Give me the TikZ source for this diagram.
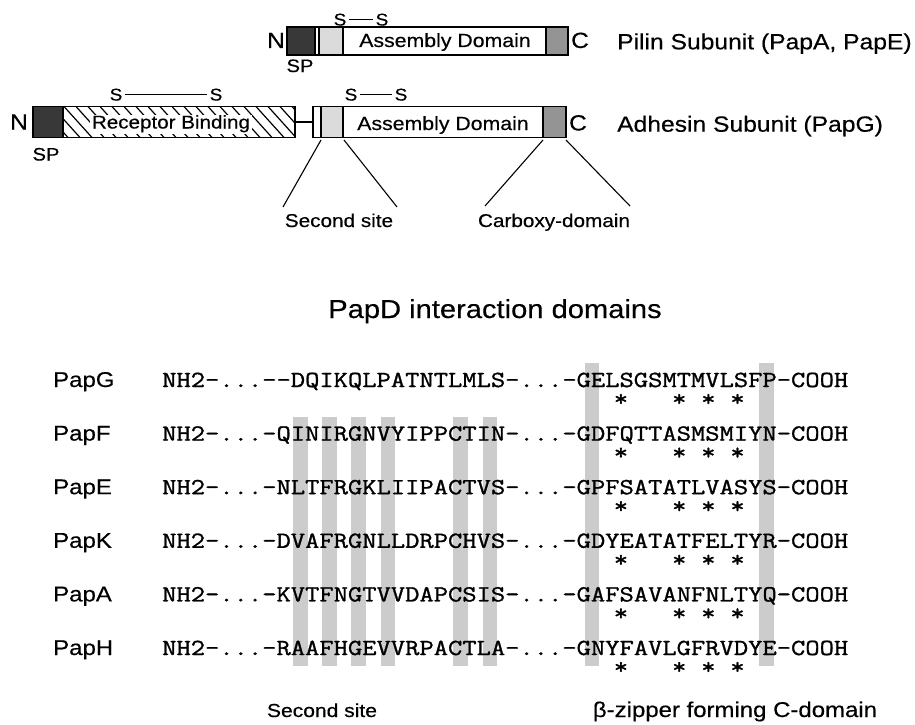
\documentclass[tikz,border=0pt]{standalone}
\usepackage{fontspec}
\setmainfont{Liberation Sans}[FakeStretch=1.12,FakeBold=0.4]
\setmonofont{Latin Modern Mono}[FakeStretch=1.2066,FakeBold=1.2]
\begin{document}
\begin{tikzpicture}[x=1pt,y=-1pt,
  sz/.style={font=\fontsize{#1}{#1}\selectfont},
  txt/.style={inner sep=0pt,anchor=base},
  txtw/.style={inner sep=0pt,anchor=base west},
  boxline/.style={draw=black,line width=1.6pt},
  divline/.style={draw=black,line width=1.3pt},
  thin/.style={draw=black,line width=1.1pt},
  seq/.style={inner sep=0pt,anchor=base west,font=\ttfamily\fontsize{23}{23}\selectfont},
  ast/.style={inner sep=0pt,anchor=center,font=\ttfamily\fontsize{23}{23}\selectfont},
  bar/.style={fill=black!20},
  spfill/.style={fill=black!78},
  ssfill/.style={fill=black!14},
  cfill/.style={fill=black!42}]
\useasboundingbox[fill=white] (0,0) rectangle (915,725);
\def\xo{162}\def\cw{14.57}
% ---------- shaded alignment columns ----------
\foreach \i in {9,11,13,15,20,22}
  \fill[bar] ({\xo+\i*\cw},417) rectangle ({\xo+(\i+1)*\cw},666);
\foreach \i in {29,41}
  \fill[bar] ({\xo+\i*\cw},363) rectangle ({\xo+(\i+1)*\cw},666);
% ---------- pilin subunit ----------
\fill[spfill] (287,27) rectangle (315,55);
\fill[ssfill] (320,27) rectangle (343,55);
\fill[cfill] (546,27) rectangle (568,55);
\draw[divline] (315,27) -- (315,55);
\draw[divline] (319,27) -- (319,55);
\draw[divline] (343,27) -- (343,55);
\draw[divline] (546,27) -- (546,55);
\draw[boxline] (287,27) rectangle (568,55);
\node[txt,sz=19] (pad) at (445,47) {Assembly Domain};
\node[txt,sz=22] (pn) at (276,48) {N};
\node[txt,sz=22] (pc) at (580,48) {C};
\node[txt,sz=18] (psp) at (300,72) {SP};
\node[txt,sz=17] (ps1) at (340,25.5) {S};
\node[txt,sz=17] (ps2) at (382,25.5) {S};
\draw[line width=0.9pt] ([xshift=2pt]ps1.east |- 0,19.5) -- ([xshift=-2pt]ps2.west |- 0,19.5);
\node[txtw,sz=22] (plab) at (617,49.3) {Pilin Subunit (PapA, PapE)};
% ---------- adhesin subunit ----------
\fill[spfill] (33,106.5) rectangle (63,137.5);
\begin{scope}
  \clip (63,106.5) rectangle (295,137.5);
  \foreach \x in {40,52,...,300}
    \draw[line width=1.2pt] (\x,106.5) -- ({\x+28},137.5);
\end{scope}
\draw[divline] (63,106.5) -- (63,137.5);
\draw[boxline] (33,106.5) rectangle (295,137.5);
\node[txt,sz=18.4,fill=white,inner xsep=2pt,inner ysep=0pt] (rb) at (171,128.5) {\strut Receptor Binding};
\coordinate (lk1) at (295,122);
\coordinate (lk2) at (313,122);
\draw[boxline] (lk1) -- (lk2);
\fill[ssfill] (321,106.5) rectangle (343,137.5);
\fill[cfill] (543,106.5) rectangle (566,137.5);
\draw[divline] (321,106.5) -- (321,137.5);
\draw[divline] (343,106.5) -- (343,137.5);
\draw[divline] (543,106.5) -- (543,137.5);
\draw[boxline] (313,106.5) rectangle (566,137.5);
\node[txt,sz=19] (aad) at (443,130) {Assembly Domain};
\node[txt,sz=22] (an) at (19,129.5) {N};
\node[txt,sz=22] (ac) at (578,130.5) {C};
\node[txt,sz=18] (asp) at (46,160.5) {SP};
\node[txt,sz=17] (as1) at (116,100.5) {S};
\node[txt,sz=17] (as2) at (216,100.5) {S};
\draw[line width=0.9pt] ([xshift=2pt]as1.east |- 0,94.5) -- ([xshift=-2pt]as2.west |- 0,94.5);
\node[txt,sz=17] (as3) at (351,100.5) {S};
\node[txt,sz=17] (as4) at (401,100.5) {S};
\draw[line width=0.9pt] ([xshift=2pt]as3.east |- 0,94.5) -- ([xshift=-2pt]as4.west |- 0,94.5);
\node[txtw,sz=22] (alab) at (617,131.7) {Adhesin Subunit (PapG)};
% ---------- expansion lines ----------
\coordinate (ssA) at (321,140);
\coordinate (ssB) at (344,140);
\coordinate (ssL) at (283,207);
\coordinate (ssR) at (397,207);
\coordinate (cbA) at (543,140);
\coordinate (cbB) at (566,140);
\coordinate (cbL) at (485,206);
\coordinate (cbR) at (630,206);
\draw[thin] (ssA) -- (ssL);
\draw[thin] (ssB) -- (ssR);
\draw[thin] (cbA) -- (cbL);
\draw[thin] (cbB) -- (cbR);
\node[txt,sz=18.5] (sslab) at (339,227) {Second site};
\node[txt,sz=18.5] (cblab) at (554,227) {Carboxy-domain};
% ---------- title ----------
\node[txt,sz=26] (title) at (495,318) {PapD interaction domains};
% ---------- sequences ----------
\node[txtw,sz=21.4] (lG) at (53,387) {PapG};
\node[txtw,sz=21.4] (lF) at (53,440.6) {PapF};
\node[txtw,sz=21.4] (lE) at (53,494.2) {PapE};
\node[txtw,sz=21.4] (lK) at (53,547.8) {PapK};
\node[txtw,sz=21.4] (lA) at (53,601.4) {PapA};
\node[txtw,sz=21.4] (lH) at (53,655) {PapH};
\node[seq] (sG) at (\xo,387) {NH2-...-\kern0pt-DQIKQLPATNTLMLS-...-GELSGSMTMVLSFP-COOH};
\node[seq] (sF) at (\xo,440.6) {NH2-...-QINIRGNVYIPPCTIN-...-GDFQTTASMSMIYN-COOH};
\node[seq] (sE) at (\xo,494.2) {NH2-...-NLTFRGKLIIPACTVS-...-GPFSATATLVASYS-COOH};
\node[seq] (sK) at (\xo,547.8) {NH2-...-DVAFRGNLLDRPCHVS-...-GDYEATATFELTYR-COOH};
\node[seq] (sA) at (\xo,601.4) {NH2-...-KVTFNGTVVDAPCSIS-...-GAFSAVANFNLTYQ-COOH};
\node[seq] (sH) at (\xo,655) {NH2-...-RAAFHGEVVRPACTLA-...-GNYFAVLGFRVDYE-COOH};
\foreach \r/\yy in {G/400,F/453.6,E/507.2,K/560.8,A/614.4,H/668}
  \foreach \i in {31,35,37,39}
    \node[ast] (a\r\i) at ({\xo+(\i+0.5)*\cw},\yy) {*};
% ---------- bottom labels ----------
\node[txt,sz=18.8] (bss) at (322,717) {Second site};
\node[txt,sz=21.4] (bcz) at (735,717) {β-zipper forming C-domain};
\end{tikzpicture}
\end{document}
